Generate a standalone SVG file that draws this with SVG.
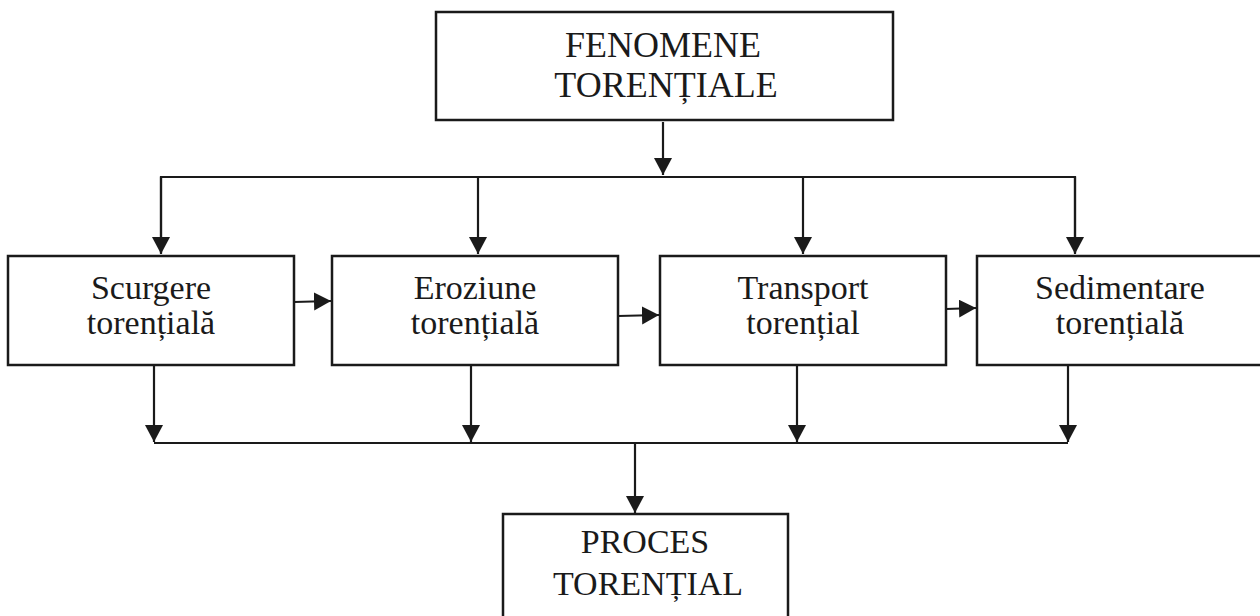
<svg xmlns="http://www.w3.org/2000/svg" width="1260" height="616" viewBox="0 0 1260 616">
<defs>
<marker id="ah" markerUnits="userSpaceOnUse" markerWidth="20" markerHeight="20" refX="17" refY="9" orient="auto">
<polygon points="0,0 17,9 0,18" fill="#1a1a1a"/>
</marker>
<style>
.box{fill:#fff;stroke:#1a1a1a;stroke-width:2.5}
.t{font-family:"Liberation Serif","Times New Roman",serif;fill:#1a1a1a;text-anchor:middle}
.big{font-size:36px}
.mid{font-size:34px}
.ln{fill:none;stroke:#1a1a1a;stroke-width:2.2}
</style>
</defs>
<g id="connectors">
<line class="ln" x1="663" y1="122" x2="663" y2="175" marker-end="url(#ah)"/>
<polyline class="ln" points="161,253 161,177 1075,177 1075,253"/>
<line class="ln" x1="161" y1="177" x2="161" y2="254" marker-end="url(#ah)"/>
<line class="ln" x1="478" y1="177" x2="478" y2="254" marker-end="url(#ah)"/>
<line class="ln" x1="803" y1="177" x2="803" y2="254" marker-end="url(#ah)"/>
<line class="ln" x1="1075" y1="177" x2="1075" y2="254" marker-end="url(#ah)"/>
<line class="ln" x1="294" y1="302" x2="331" y2="301" marker-end="url(#ah)"/>
<line class="ln" x1="618" y1="316" x2="659" y2="315" marker-end="url(#ah)"/>
<line class="ln" x1="946" y1="309" x2="976" y2="308" marker-end="url(#ah)"/>
<line class="ln" x1="154" y1="366" x2="154" y2="442" marker-end="url(#ah)"/>
<line class="ln" x1="471" y1="366" x2="471" y2="442" marker-end="url(#ah)"/>
<line class="ln" x1="797" y1="366" x2="797" y2="442" marker-end="url(#ah)"/>
<line class="ln" x1="1068" y1="366" x2="1068" y2="442" marker-end="url(#ah)"/>
<line class="ln" x1="154" y1="443" x2="1068" y2="443"/>
<line class="ln" x1="635" y1="444" x2="635" y2="513" marker-end="url(#ah)"/>
</g>
<g id="n_fenomene">
<rect class="box" x="436" y="12" width="457" height="108"/>
<text class="t big" x="663" y="57">FENOMENE</text>
<text class="t big" x="666" y="97">TORENȚIALE</text>
</g>
<g id="n_scurgere">
<rect class="box" x="8" y="256" width="286" height="109"/>
<text class="t mid" x="151" y="299">Scurgere</text>
<text class="t mid" x="151" y="334">torențială</text>
</g>
<g id="n_eroziune">
<rect class="box" x="332" y="256" width="286" height="109"/>
<text class="t mid" x="475" y="299">Eroziune</text>
<text class="t mid" x="475" y="334">torențială</text>
</g>
<g id="n_transport">
<rect class="box" x="660" y="256" width="286" height="109"/>
<text class="t mid" x="803" y="299">Transport</text>
<text class="t mid" x="803" y="334">torențial</text>
</g>
<g id="n_sedimentare">
<rect class="box" x="977" y="256" width="286" height="109"/>
<text class="t mid" x="1120" y="299">Sedimentare</text>
<text class="t mid" x="1120" y="334">torențială</text>
</g>
<g id="n_proces">
<rect class="box" x="503" y="514" width="285" height="120"/>
<text class="t mid" x="645" y="553">PROCES</text>
<text class="t mid" x="648" y="595">TORENȚIAL</text>
</g>
</svg>
